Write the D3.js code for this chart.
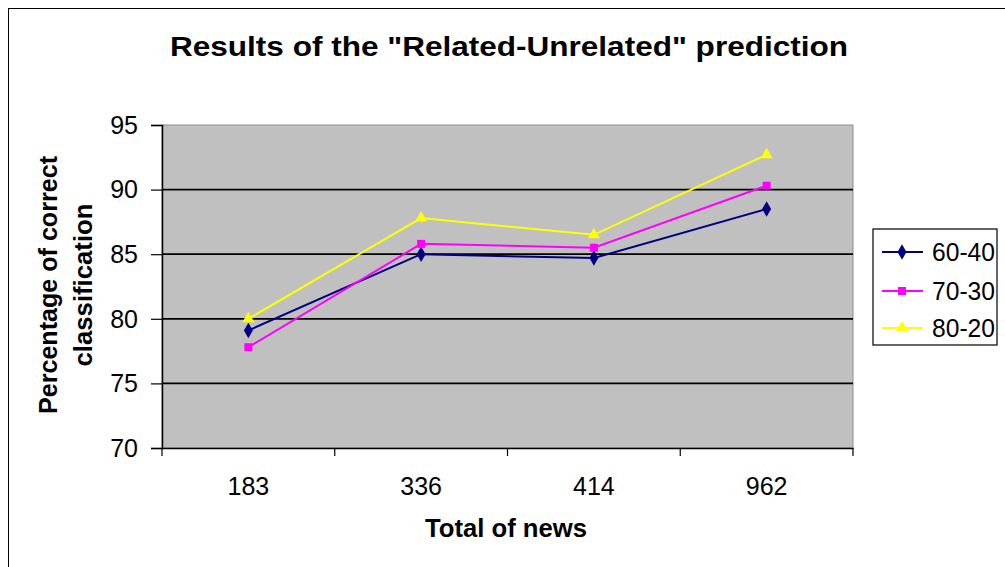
<!DOCTYPE html>
<html><head><meta charset="utf-8">
<script src="https://cdn.jsdelivr.net/npm/d3@7"></script>
<style>body{margin:0;background:#fff}svg{display:block}text{font-family:Arial,"Liberation Sans",sans-serif}</style>
</head><body>
<script>
const categories = ["183", "336", "414", "962"];
const seriesNames = ["60-40", "70-30", "80-20"];
const s6040 = [79.1, 85.0, 84.7, 88.5];
const s7030 = [77.8, 85.8, 85.5, 90.3];
const s8020 = [80.0, 87.8, 86.5, 92.7];
const yTicks = [70, 75, 80, 85, 90, 95];
const colors = ["#000080", "#FF00FF", "#FFFF00"];
const symbols = [d3.symbolDiamond, d3.symbolSquare, d3.symbolTriangle];
const allSeries = [s6040, s7030, s8020];

const W = 1005, H = 567;
const svg = d3.select("body").append("svg").attr("width", W).attr("height", H);
svg.append("rect").attr("x", 8.5).attr("y", 8.5).attr("width", W + 10).attr("height", H + 10)
  .attr("fill", "#fff").attr("stroke", "#000").attr("stroke-width", 1);

const L = 162, R = 853, T = 125, B = 448;
const x = d3.scaleBand().domain(categories).range([L, R]);
const y = d3.scaleLinear().domain([70, 95]).range([B, T]);

svg.append("rect").attr("x", L).attr("y", T).attr("width", R - L).attr("height", B - T)
  .attr("fill", "#C0C0C0").attr("stroke", "#909090").attr("stroke-width", 1);

// gridlines
svg.append("g").selectAll("line").data(yTicks.filter(v => v > 70 && v < 95)).join("line")
  .attr("x1", L).attr("x2", R).attr("y1", d => y(d)).attr("y2", d => y(d))
  .attr("stroke", "#000").attr("stroke-width", 1.7);

// y axis
const yAxis = svg.append("g").attr("transform", `translate(${L},0)`)
  .call(d3.axisLeft(y).tickValues(yTicks).tickSize(11).tickPadding(13));
yAxis.select(".domain").attr("stroke", "#000").attr("stroke-width", 1.5);
yAxis.selectAll(".tick line").attr("stroke", "#000").attr("stroke-width", 1.2);
yAxis.selectAll("text").attr("font-size", 25).attr("fill", "#000").attr("dy", "0.33em");

// x axis
const xAxis = svg.append("g").attr("transform", `translate(0,${B})`)
  .call(d3.axisBottom(x).tickSize(0).tickPadding(29));
xAxis.select(".domain").attr("stroke", "#000").attr("stroke-width", 1.5);
xAxis.selectAll("text").attr("font-size", 25).attr("fill", "#000");
const bounds = categories.map(c => x(c)).concat([x.range()[1]]);
xAxis.selectAll("line.bt").data(bounds).join("line").attr("class", "bt")
  .attr("x1", d => d).attr("x2", d => d).attr("y1", 0).attr("y2", 8)
  .attr("stroke", "#000").attr("stroke-width", 1.2);

// lines
const line = d3.line().x((d, i) => x(categories[i]) + x.bandwidth() / 2).y(d => y(d));
allSeries.forEach((s, k) => {
  svg.append("path").datum(s).attr("d", line).attr("fill", "none")
    .attr("stroke", colors[k]).attr("stroke-width", 2);
});
allSeries.forEach((s, k) => {
  svg.append("g").selectAll("path").data(s).join("path")
    .attr("transform", (d, i) => `translate(${x(categories[i]) + x.bandwidth() / 2},${y(d)})`)
    .attr("d", d3.symbol().type(symbols[k]).size(k === 0 ? 70 : 64))
    .attr("fill", colors[k]);
});

// title
svg.append("text").attr("x", 509).attr("y", 56).attr("text-anchor", "middle")
  .attr("font-size", 27).attr("font-weight", "bold").attr("textLength", 678).attr("lengthAdjust", "spacingAndGlyphs")
  .attr("fill", "#000").text('Results of the "Related-Unrelated" prediction');

// x label
svg.append("text").attr("x", 506).attr("y", 537).attr("text-anchor", "middle")
  .attr("font-size", 25).attr("font-weight", "bold").attr("textLength", 162)
  .attr("lengthAdjust", "spacingAndGlyphs").text("Total of news");

// y label
const yl = svg.append("text").attr("transform", "translate(0,285) rotate(-90)")
  .attr("text-anchor", "middle").attr("font-size", 25).attr("font-weight", "bold");
yl.append("tspan").attr("x", 0).attr("y", 57).attr("textLength", 258).attr("lengthAdjust", "spacingAndGlyphs").text("Percentage of correct");
yl.append("tspan").attr("x", 0).attr("y", 92).attr("textLength", 163).attr("lengthAdjust", "spacingAndGlyphs").text("classification");

// legend
const lg = svg.append("g");
lg.append("rect").attr("x", 873).attr("y", 229).attr("width", 124).attr("height", 116)
  .attr("fill", "#fff").attr("stroke", "#000").attr("stroke-width", 1.2);
const rowY = [252, 291, 328];
seriesNames.forEach((n, k) => {
  lg.append("line").attr("x1", 882).attr("x2", 923).attr("y1", rowY[k]).attr("y2", rowY[k])
    .attr("stroke", colors[k]).attr("stroke-width", 2);
  lg.append("path").attr("transform", `translate(902,${rowY[k]})`)
    .attr("d", d3.symbol().type(symbols[k]).size(k === 0 ? 70 : 64)).attr("fill", colors[k]);
  lg.append("text").attr("x", 932).attr("y", rowY[k] + 9).attr("font-size", 25)
    .attr("textLength", 63).attr("lengthAdjust", "spacingAndGlyphs").text(n);
});
</script>
</body></html>
